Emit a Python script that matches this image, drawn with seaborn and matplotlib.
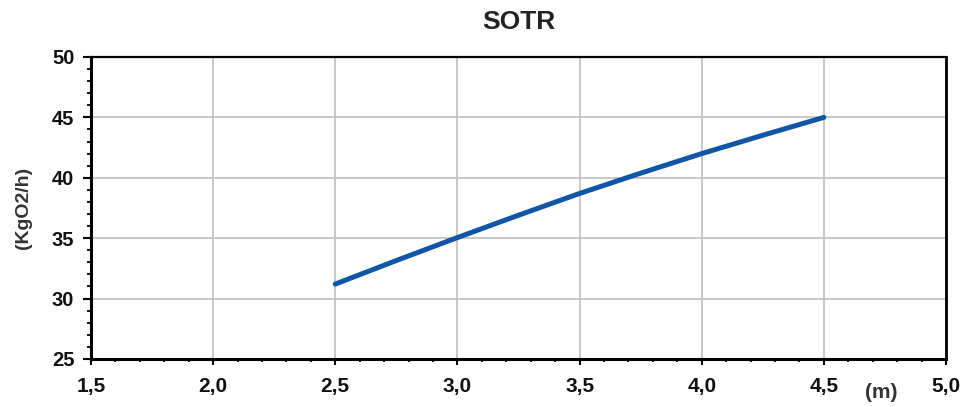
import matplotlib
matplotlib.use("Agg")
import matplotlib.pyplot as plt
from matplotlib.ticker import MultipleLocator, FuncFormatter
import seaborn as sns
import pandas as pd

depth_m = [2.5, 2.75, 3.0, 3.25, 3.5, 3.75, 4.0, 4.25, 4.5]
sotr = [31.2, 33.15, 35.05, 36.9, 38.7, 40.38, 42.0, 43.52, 45.0]
x_ticks = [1.5, 2.0, 2.5, 3.0, 3.5, 4.0, 4.5, 5.0]
y_ticks = [25, 30, 35, 40, 45, 50]

sns.set_theme(style="white")
plt.rcParams['font.family'] = ['Liberation Sans', 'DejaVu Sans']

fig = plt.figure(figsize=(9.65, 4.07), dpi=100)
ax = fig.add_axes([0.0943, 0.118, 0.886, 0.742])

df = pd.DataFrame({"x": depth_m, "y": sotr})
sns.lineplot(data=df, x="x", y="y", ax=ax, color="#1156a6", linewidth=3.6, zorder=3)

ax.set_xlim(1.5, 5.0)
ax.set_ylim(25, 50)
ax.set_xticks(x_ticks)
ax.set_yticks(y_ticks)
ax.xaxis.set_minor_locator(MultipleLocator(0.1))
ax.yaxis.set_minor_locator(MultipleLocator(1))
ax.xaxis.set_major_formatter(FuncFormatter(lambda v, p: f"{v:.1f}".replace(".", ",")))
ax.yaxis.set_major_formatter(FuncFormatter(lambda v, p: f"{int(v)}"))

ax.grid(True, which="major", color="#c4c4c4", linewidth=1.3)
ax.tick_params(axis="x", which="major", direction="out", length=4, width=1.5, color="black", pad=9, labelsize=15)
ax.tick_params(axis="x", which="minor", direction="out", length=2.5, width=1.3, color="black")
ax.tick_params(axis="y", which="major", direction="out", length=6, width=1.5, color="black", pad=6, labelsize=14.5)
ax.tick_params(axis="y", which="minor", direction="out", length=3, width=1.3, color="black")
ax.xaxis.set_tick_params(which="both", bottom=True)
ax.yaxis.set_tick_params(which="both", left=True)
for lab in ax.get_xticklabels() + ax.get_yticklabels():
    lab.set_fontweight("bold")
    lab.set_color("#111111")

for side in ["left", "bottom"]:
    ax.spines[side].set_color("black")
    ax.spines[side].set_linewidth(2.2)
ax.spines["top"].set_color("black")
ax.spines["top"].set_linewidth(1.6)
ax.spines["right"].set_color("black")
ax.spines["right"].set_linewidth(2.0)

ax.set_xlabel("")
ax.set_ylabel("(KgO2/h)", fontsize=14, fontweight="bold", color="#333333", labelpad=14)
ax.set_title("SOTR", fontsize=19, fontweight="bold", color="#222222", pad=20)
ax.text(0.924, -0.11, "(m)", transform=ax.transAxes, fontsize=15, fontweight="bold",
        color="#333333", ha="center", va="center")

fig.savefig("out.png", dpi=100)
